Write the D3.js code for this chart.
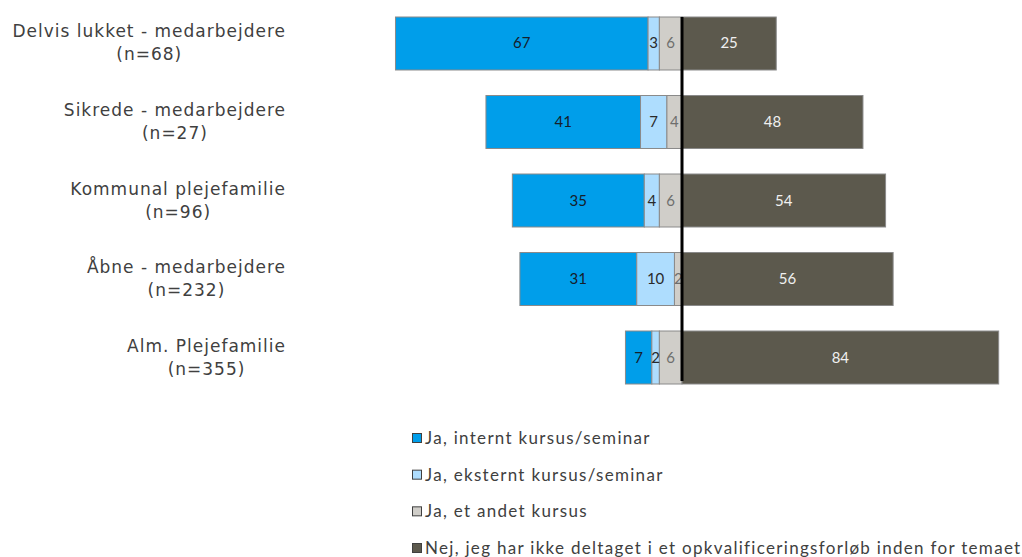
<!DOCTYPE html>
<html><head><meta charset="utf-8">
<script src="https://cdn.jsdelivr.net/npm/d3@7"></script>
<style>body{margin:0;background:#fff}</style>
</head><body>
<svg id="c" width="1022" height="557"></svg>
<script>
const categories = ["Delvis lukket - medarbejdere","Sikrede - medarbejdere","Kommunal plejefamilie","Åbne - medarbejdere","Alm. Plejefamilie"];
const counts = ["(n=68)","(n=27)","(n=96)","(n=232)","(n=355)"];
const seriesNames = ["Ja, internt kursus/seminar","Ja, eksternt kursus/seminar","Ja, et andet kursus","Nej, jeg har ikke deltaget i et opkvalificeringsforløb inden for temaet"];
const internt = [67,41,35,31,7];
const eksternt = [3,7,4,10,2];
const andet = [6,4,6,2,6];
const nej = [25,48,54,56,84];
const colors = ["#009EEA","#AEDDFE","#D0CEC9","#5C594D"];
const labelColors = ["#15202b","#2a2a2a","#6e6e6e","#f0f0f0"];

const svg = d3.select("#c");
const x = d3.scaleLinear().domain([-80,90]).range([380.4,1021.3]);
const y = d3.scaleBand().domain(categories).range([17,384]).paddingInner(0.325).paddingOuter(0);

const rows = categories.map((c,i)=>{
  const vals=[internt[i],eksternt[i],andet[i],nej[i]];
  const leftTotal = vals[0]+vals[1]+vals[2];
  let cur=-leftTotal;
  return vals.map((v,k)=>{const s={k,v,x0:cur,x1:cur+v,cat:c}; cur+=v; return s;});
});

const g = svg.append("g");
rows.forEach(segs=>{
  segs.forEach(s=>{
    g.append("rect").attr("x",x(s.x0)).attr("y",y(s.cat)).attr("width",x(s.x1)-x(s.x0)).attr("height",y.bandwidth())
      .attr("fill",colors[s.k]).attr("stroke","#8a8a8a").attr("stroke-width",1);
  });
  segs.forEach(s=>{
    g.append("text").attr("x",(x(s.x0)+x(s.x1))/2).attr("y",y(s.cat)+y.bandwidth()/2+5)
      .attr("text-anchor","middle").attr("font-family","Lato").attr("font-size",15)
      .attr("fill",labelColors[s.k]).text(s.v);
  });
});

// center line
svg.append("line").attr("x1",x(0)).attr("x2",x(0)).attr("y1",y(categories[0])).attr("y2",y(categories[4])+y.bandwidth()-3)
  .attr("stroke","#000").attr("stroke-width",3);

// category labels
categories.forEach((c,i)=>{
  const cy = y(c)+y.bandwidth()/2;
  const t = svg.append("text").attr("font-family","DejaVu Sans").attr("font-size",17).attr("letter-spacing",1)
    .attr("fill","#404040").attr("text-anchor","middle");
  const l1 = t.append("tspan").attr("y",cy-6).text(c);
  const l2 = t.append("tspan").attr("y",cy+17).text(counts[i]);
  const w = Math.max(l1.node().getComputedTextLength(), l2.node().getComputedTextLength());
  const cx = 286 - w/2;
  l1.attr("x",cx); l2.attr("x",cx);
});

// legend
const leg = svg.append("g");
const legendY = d3.scalePoint().domain(seriesNames).range([438,548]);
seriesNames.forEach((n,k)=>{
  const ly = legendY(n);
  leg.append("rect").attr("x",412.5).attr("y",ly-4.5).attr("width",9).attr("height",9)
    .attr("fill",colors[k]).attr("stroke","#404040").attr("stroke-width",1);
  leg.append("text").attr("x",425).attr("y",ly+6).attr("font-family","Lato").attr("font-size",17)
    .attr("letter-spacing",1.3).attr("fill","#404040").text(n);
});
</script>
</body></html>
